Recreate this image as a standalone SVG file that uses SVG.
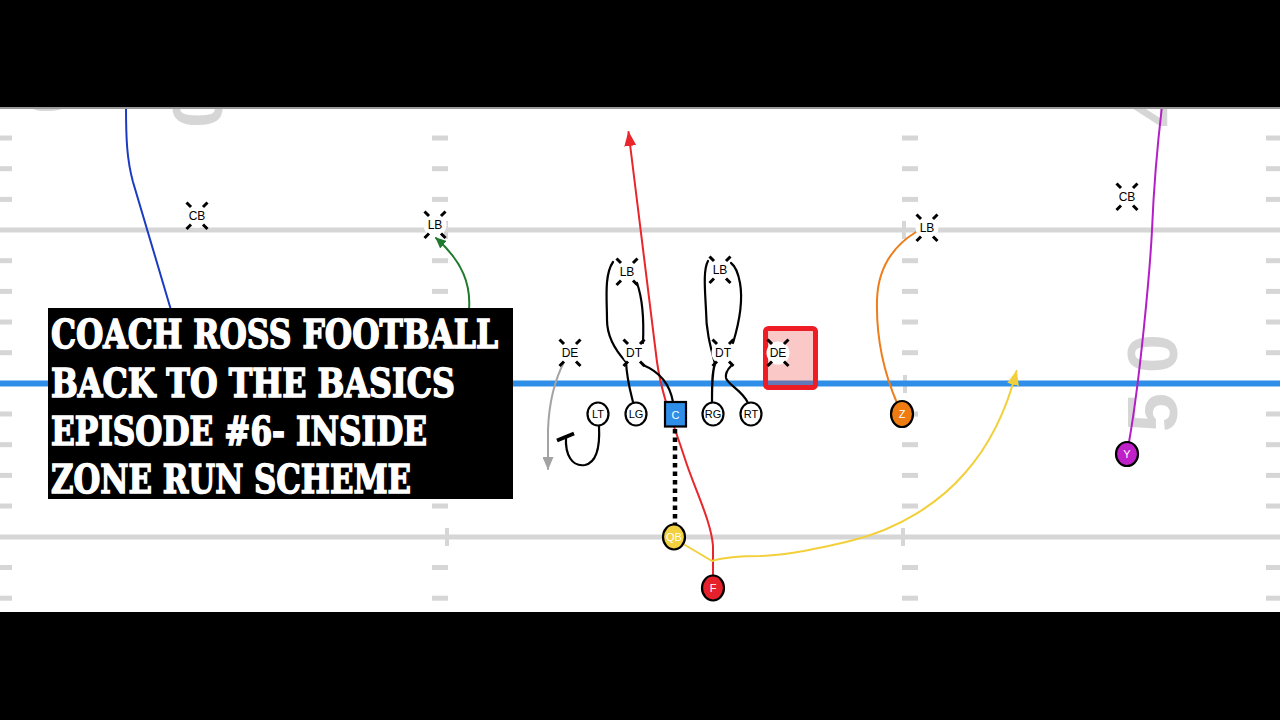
<svg xmlns="http://www.w3.org/2000/svg" width="1280" height="720" viewBox="0 0 1280 720">
<style>
.hash{fill:#d6d6d6}
.yl{fill:#d6d6d6}
.yard{font-family:"Liberation Sans",Arial,sans-serif;font-weight:bold;font-size:70px;fill:#d6d6d6}
.route{fill:none;stroke-width:2;stroke-linecap:round;stroke-linejoin:round}
.blk{fill:none;stroke:#000;stroke-width:2.2;stroke-linecap:round;stroke-linejoin:round}
.xm{stroke:#000;stroke-width:3;fill:none}
.dlbl{font-family:"Liberation Sans",Arial,sans-serif;font-size:12px;fill:#000;text-anchor:middle}
.olbl{font-family:"Liberation Sans",Arial,sans-serif;font-size:11px;text-anchor:middle}
.ol{stroke:#000;stroke-width:2.2}
.title{font-family:"DejaVu Serif","Liberation Serif",serif;font-weight:bold;font-size:40px;fill:#fff;stroke:#fff;stroke-width:1.6;stroke-linejoin:miter}
</style>
<defs>
<g id="dx"><circle r="11.5" fill="#fff"/><path class="xm" d="M-10.5,-13.5 L-6,-9 M10.5,-13.5 L6,-9 M-10.5,13 L-6,8.5 M10.5,13 L6,8.5"/></g>
<marker id="ar-red" viewBox="0 0 15 12" refX="14" refY="6" markerWidth="15" markerHeight="12" markerUnits="userSpaceOnUse" orient="auto"><path d="M0,0 L15,6 L0,12 z" fill="#e8262b"/></marker>
<marker id="ar-yel" viewBox="0 0 15 12" refX="14" refY="6" markerWidth="15" markerHeight="12" markerUnits="userSpaceOnUse" orient="auto"><path d="M0,0 L15,6 L0,12 z" fill="#f2d03c"/></marker>
<marker id="ar-grn" viewBox="0 0 11 10" refX="10" refY="5" markerWidth="11" markerHeight="10" markerUnits="userSpaceOnUse" orient="auto"><path d="M0,0 L11,5 L0,10 z" fill="#1f7a2e"/></marker>
<marker id="ar-gry" viewBox="0 0 13 11" refX="12" refY="5.5" markerWidth="13" markerHeight="11" markerUnits="userSpaceOnUse" orient="auto"><path d="M0,0 L13,5.5 L0,11 z" fill="#a3a3a3"/></marker>
</defs>

<!-- field -->
<g id="field">
<rect x="0" y="0" width="1280" height="720" fill="#fff"/>
<rect class="yl" x="0" y="227.5" width="1280" height="5"/>
<rect class="yl" x="0" y="534.5" width="1280" height="5"/>
<g id="hashes">
<g id="hash-col">
<rect class="hash" x="-4" y="135.5" width="16" height="5"/>
<rect class="hash" x="-4" y="166.2" width="16" height="5"/>
<rect class="hash" x="-4" y="196.9" width="16" height="5"/>
<rect class="hash" x="-4" y="258.2" width="16" height="5"/>
<rect class="hash" x="-4" y="288.9" width="16" height="5"/>
<rect class="hash" x="-4" y="319.5" width="16" height="5"/>
<rect class="hash" x="-4" y="350.2" width="16" height="5"/>
<rect class="hash" x="-4" y="411.5" width="16" height="5"/>
<rect class="hash" x="-4" y="442.2" width="16" height="5"/>
<rect class="hash" x="-4" y="472.9" width="16" height="5"/>
<rect class="hash" x="-4" y="503.5" width="16" height="5"/>
<rect class="hash" x="-4" y="565" width="16" height="5"/>
<rect class="hash" x="-4" y="595.7" width="16" height="5"/>
</g>
<use href="#hash-col" x="436"/>
<use href="#hash-col" x="906"/>
<use href="#hash-col" x="1270"/>
<rect class="hash" x="444" y="221" width="4" height="18"/>
<rect class="hash" x="902" y="221" width="4" height="18"/>
<rect class="hash" x="445" y="528" width="4" height="18"/>
<rect class="hash" x="901" y="528" width="4" height="18"/>
<rect class="hash" x="903" y="375" width="4" height="18"/>
</g>
<text class="yard" transform="translate(1177,432) rotate(-90)" letter-spacing="20">50</text>
<text class="yard" transform="translate(1177,127) rotate(-90)">4</text>
<text class="yard" transform="translate(173,89) rotate(90)">0</text>
<text class="yard" transform="translate(23,75) rotate(90)">0</text>
<rect x="0" y="380.5" width="1280" height="6" fill="#2f8fe8"/>
</g>

<!-- connectors -->
<g id="connectors">
<path class="route" stroke="#1b3cc2" d="M126,106 C126,140 127,160 133,182 L171,310"/>
<path class="route" stroke="#1f7a2e" d="M469,310 C471,285 463,262 436,238" marker-end="url(#ar-grn)"/>
<path class="route" stroke="#e8262b" d="M713,577 L713,546 C711,520 694,488 684,456 C674,425 662,397 657,362 L628.5,132" marker-end="url(#ar-red)"/>
<path class="route" stroke="#f2d03c" d="M685,545 L712,561 C725,557 740,556 760,556 C790,555 820,548 850,541 C900,529 940,502 965,473 C988,447 1006,412 1016.5,371" marker-end="url(#ar-yel)"/>
<path class="route" stroke="#ee7d1c" d="M897,403 C885,375 876,340 877,300 C878,265 895,245 916,232"/>
<path class="route" stroke="#b41fc5" d="M1129,442 C1140,380 1150,270 1152,230 C1154,180 1158,140 1162,106"/>
<path class="route" stroke="#a3a3a3" d="M565,360 C556,377 549,400 548,430 L548,469" marker-end="url(#ar-gry)"/>
<path d="M675,429 L675,524" stroke="#000" stroke-width="4.5" stroke-dasharray="4.5,4" fill="none"/>
<path class="blk" d="M599,426 C600,445 598,462 585,465 C572,467 565,455 566,437"/>
<path d="M557,440.5 L574,433.5" stroke="#000" stroke-width="3.8" fill="none"/>
<path class="blk" d="M633,402 C630,390 627,380 626,362 C615,350 607,335 607,320 C607,300 604,275 613,262"/>
<path class="blk" d="M673,402 C670,385 660,372 643,365"/>
<path class="blk" d="M643,343 C644,320 643,300 637,283"/>
<path class="blk" d="M712,402 C712,385 712,372 715,364 C710,345 706,330 706,310 C705,290 703,270 708,261"/>
<path class="blk" d="M748,403 C742,390 728,385 726,378 C725,372 729,368 731,366"/>
<path class="blk" d="M733,343 C740,320 743,300 740,283 C738,272 735,266 731,263"/>
</g>

<!-- highlight box -->
<rect id="de-highlight" x="765.5" y="328.5" width="50" height="59" rx="3" fill="#f03a3a" fill-opacity="0.28" stroke="#ee1c24" stroke-width="5"/>

<!-- defense -->
<g id="cb-left" transform="translate(197,216)"><use href="#dx"/><text class="dlbl" y="4.2">CB</text></g>
<g id="lb-left" transform="translate(435,225)"><use href="#dx"/><text class="dlbl" y="4.2">LB</text></g>
<g id="lb-mid-left" transform="translate(627,272)"><use href="#dx"/><text class="dlbl" y="4.2">LB</text></g>
<g id="lb-mid-right" transform="translate(720,270)"><use href="#dx"/><text class="dlbl" y="4.2">LB</text></g>
<g id="de-left" transform="translate(570,353)"><use href="#dx"/><text class="dlbl" y="4.2">DE</text></g>
<g id="dt-left" transform="translate(634,353)"><use href="#dx"/><text class="dlbl" y="4.2">DT</text></g>
<g id="dt-right" transform="translate(723,353)"><use href="#dx"/><text class="dlbl" y="4.2">DT</text></g>
<g id="de-right" transform="translate(778,353)"><use href="#dx"/><text class="dlbl" y="4.2">DE</text></g>
<g id="lb-right" transform="translate(927,228)"><use href="#dx"/><text class="dlbl" y="4.2">LB</text></g>
<g id="cb-right" transform="translate(1127,197)"><use href="#dx"/><text class="dlbl" y="4.2">CB</text></g>

<!-- offense -->
<g id="lt"><ellipse class="ol" cx="598" cy="414" rx="10.5" ry="11.5" fill="#fff"/><text class="olbl" x="598" y="418" fill="#000">LT</text></g>
<g id="lg"><ellipse class="ol" cx="636" cy="414" rx="10.5" ry="11.5" fill="#fff"/><text class="olbl" x="636" y="418" fill="#000">LG</text></g>
<g id="c"><rect class="ol" x="665" y="402" width="21" height="24.5" fill="#2f8fe8"/><text class="olbl" x="675.5" y="418.5" fill="#fff" font-size="12">C</text></g>
<g id="rg"><ellipse class="ol" cx="713" cy="414" rx="10.5" ry="11.5" fill="#fff"/><text class="olbl" x="713" y="418" fill="#000">RG</text></g>
<g id="rt"><ellipse class="ol" cx="751" cy="414" rx="10.5" ry="11.5" fill="#fff"/><text class="olbl" x="751" y="418" fill="#000">RT</text></g>
<g id="qb"><ellipse class="ol" cx="674" cy="537" rx="11" ry="12.5" fill="#f3d03e"/><text class="olbl" x="674" y="541" fill="#fff">QB</text></g>
<g id="f"><ellipse class="ol" cx="713" cy="588" rx="11" ry="12.5" fill="#e5212b"/><text class="olbl" x="713" y="592" fill="#fff">F</text></g>
<g id="z"><ellipse class="ol" cx="902" cy="414" rx="11" ry="13" fill="#ef7c10"/><text class="olbl" x="902" y="418" fill="#fff">Z</text></g>
<g id="y"><ellipse class="ol" cx="1127" cy="454" rx="11" ry="12" fill="#c020c8"/><text class="olbl" x="1127" y="458" fill="#fff" font-size="10">Y</text></g>

<!-- title box -->
<g id="title">
<rect x="48" y="308" width="465" height="191" fill="#000"/>
<text class="title" x="51" y="348" textLength="447" lengthAdjust="spacingAndGlyphs">COACH ROSS FOOTBALL</text>
<text class="title" x="51" y="397" textLength="404" lengthAdjust="spacingAndGlyphs">BACK TO THE BASICS</text>
<text class="title" x="51" y="445" textLength="376" lengthAdjust="spacingAndGlyphs">EPISODE #6- INSIDE</text>
<text class="title" x="51" y="493" textLength="360" lengthAdjust="spacingAndGlyphs">ZONE RUN SCHEME</text>
</g>

<!-- letterbox bars -->
<rect x="0" y="106" width="1280" height="3" fill="#9a9a9a"/>
<rect x="0" y="0" width="1280" height="107" fill="#000"/>
<rect x="0" y="612" width="1280" height="108" fill="#000"/>
</svg>
